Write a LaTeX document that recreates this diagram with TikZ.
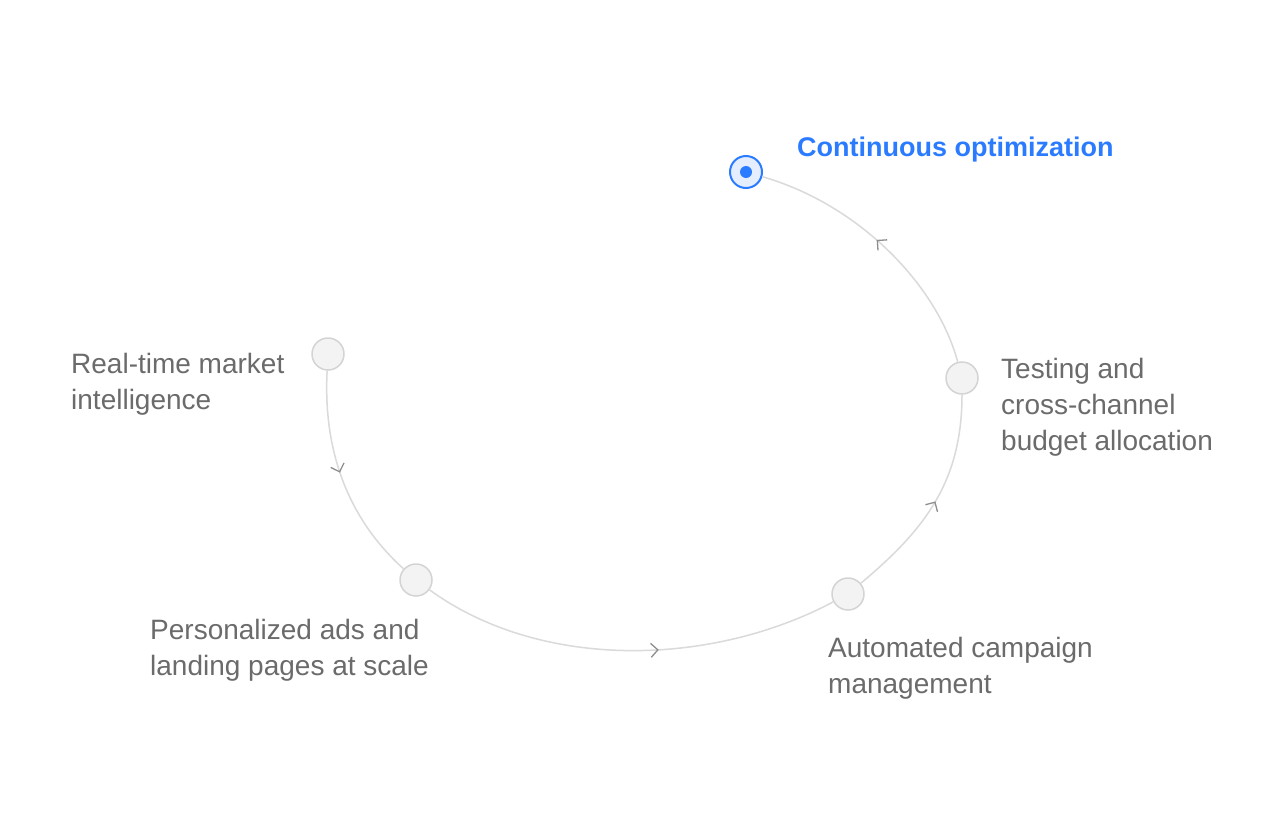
\documentclass[tikz,border=0pt]{standalone}
\usepackage{fontspec}
\setmainfont{Liberation Sans}
\usetikzlibrary{arrows.meta}
\usetikzlibrary{decorations.markings}
\definecolor{linegray}{HTML}{DADADA}
\definecolor{tipgray}{HTML}{8E8E8E}
\definecolor{dotfill}{HTML}{F3F3F3}
\definecolor{dotline}{HTML}{D4D4D4}
\definecolor{txtgray}{HTML}{6B6B6B}
\definecolor{hiblue}{HTML}{2B7BFF}
\definecolor{hifill}{HTML}{E4EEFF}
\begin{document}
\begin{tikzpicture}[x=1pt,y=1pt,
  dot/.style={circle,minimum size=32pt,inner sep=0pt,fill=dotfill,draw=dotline,line width=1.5pt},
  curdot/.style={circle,minimum size=32pt,inner sep=0pt,fill=hifill,draw=hiblue,line width=2pt},
  lbl/.style={font=\fontsize{28}{36}\selectfont,text=txtgray,align=left,inner sep=0pt,anchor=base west},
  flow/.style={draw=linegray,line width=1.5pt,postaction={decorate},
    decoration={markings,mark=at position #1 with {\arrow[tipgray,line width=1.3pt]{Straight Barb[length=7pt,width=14pt]}}}},
  flow/.default=0.5]
\useasboundingbox[fill=white] (0,0) rectangle (1282,-828);

\node[dot] (rt) at (328,-354) {};
\node[dot] (pa) at (416,-580) {};
\node[dot] (am) at (848,-594) {};
\node[dot] (tc) at (962,-378) {};
\node[curdot] (co) at (746,-172) {};
\fill[hiblue] (co) circle (6pt);

\draw[flow=0.47] (rt) to[out=-93,in=138,out distance=80,in distance=75] (pa);
\draw[flow=0.57] (pa) to[out=-36,in=208,out distance=138,in distance=138] (am);
\draw[flow=0.5] (am) to[out=40,in=-90,out distance=82,in distance=88] (tc);
\draw[flow=0.53] (tc) to[out=105,in=-16,out distance=80,in distance=100] (co);

\node[lbl] (rt-lbl) at (71,-409) {Real-time market\\intelligence};
\node[lbl] (pa-lbl) at (150,-675) {Personalized ads and\\landing pages at scale};
\node[lbl] (am-lbl) at (828,-693) {Automated campaign\\management};
\node[lbl] (tc-lbl) at (1001,-450) {Testing and\\cross-channel\\budget allocation};
\node[lbl,font=\fontsize{27}{32}\selectfont\bfseries,text=hiblue] (co-lbl) at (797,-156) {Continuous optimization};
\end{tikzpicture}
\end{document}
